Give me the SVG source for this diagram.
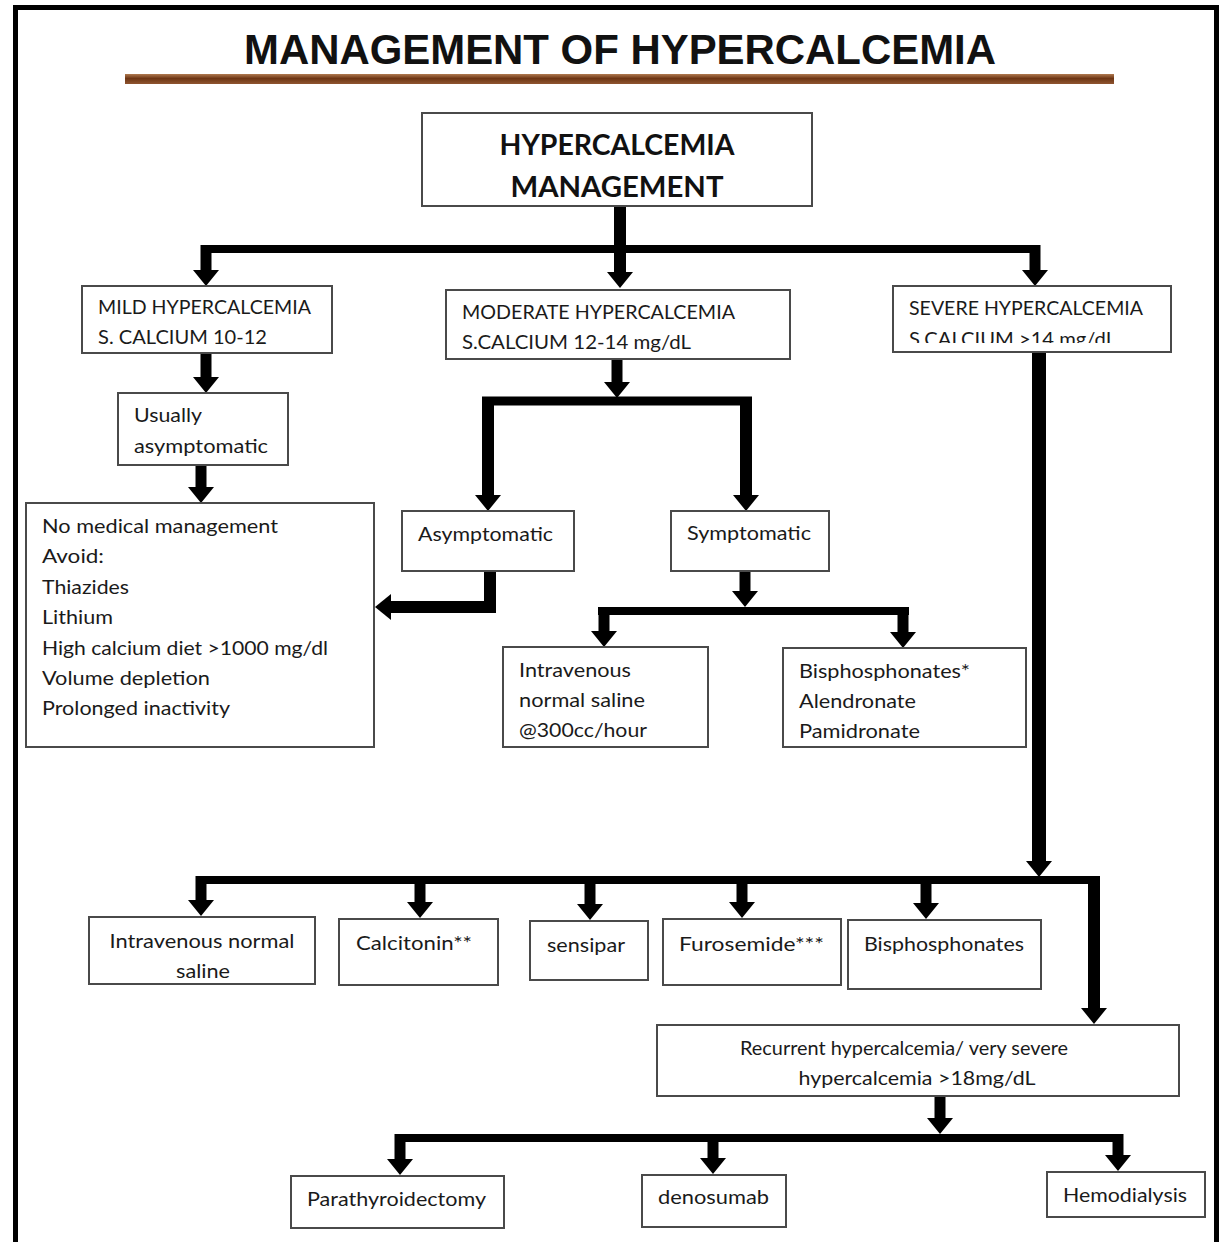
<svg xmlns="http://www.w3.org/2000/svg" width="1222" height="1242" viewBox="0 0 1222 1242">
<style>
.box{fill:#fff;stroke:#4a4a4a;stroke-width:2}
.t{font-family:Lato,"Open Sans","Liberation Sans",sans-serif;font-size:20px;fill:#1a1a1a}
.tb{font-family:Lato,"Open Sans","Liberation Sans",sans-serif;font-size:29px;font-weight:bold;fill:#111}
.title{font-family:"Liberation Sans",Arial,sans-serif;font-size:42px;font-weight:bold;fill:#111}
.c line,.c path{stroke:#000;fill:none;stroke-linejoin:miter}
.h{stroke-width:8}
.s{stroke-width:11}
</style>
<defs>
<marker id="ah" markerUnits="userSpaceOnUse" viewBox="0 -14 17 28" markerWidth="17" markerHeight="28" refX="0" refY="0" orient="auto">
<path d="M0,-13 L16,0 L0,13 Z" fill="#000"/>
</marker>
<linearGradient id="brown" x1="0" y1="0" x2="0" y2="1">
<stop offset="0" stop-color="#b07a50"/>
<stop offset="0.45" stop-color="#6e3614"/>
<stop offset="1" stop-color="#8f5530"/>
</linearGradient>
<clipPath id="clipMod"><rect x="446" y="290" width="344" height="63"/></clipPath>
<clipPath id="clipSev"><rect x="893" y="286" width="278" height="57"/></clipPath>
<clipPath id="clipIV"><rect x="89" y="917" width="226" height="64"/></clipPath>
<clipPath id="clipRec"><rect x="657" y="1025" width="522" height="64"/></clipPath>
</defs>

<rect x="15.5" y="7.5" width="1201" height="1260" fill="#fff" stroke="#000" stroke-width="5"/>

<g id="title">
<text class="title" x="620" y="64" text-anchor="middle" textLength="752" lengthAdjust="spacingAndGlyphs">MANAGEMENT OF HYPERCALCEMIA</text>
<rect x="125" y="74" width="989" height="10" fill="url(#brown)"/>
</g>

<g class="c" id="connectors">
<line class="s" x1="620" y1="206" x2="620" y2="272" style="stroke-width:12" marker-end="url(#ah)"/>
<line class="h" x1="201" y1="249" x2="1040" y2="249"/>
<line class="s" x1="206" y1="245" x2="206" y2="270" marker-end="url(#ah)"/>
<line class="s" x1="1035" y1="245" x2="1035" y2="270" marker-end="url(#ah)"/>
<line class="s" x1="206" y1="353" x2="206" y2="377" marker-end="url(#ah)"/>
<line class="s" x1="201" y1="465" x2="201" y2="487" marker-end="url(#ah)"/>
<line class="s" x1="617" y1="359" x2="617" y2="382" marker-end="url(#ah)"/>
<line x1="482" y1="401" x2="752" y2="401" style="stroke-width:9"/>
<line x1="488" y1="397" x2="488" y2="495" style="stroke-width:12" marker-end="url(#ah)"/>
<line x1="746" y1="397" x2="746" y2="495" style="stroke-width:12" marker-end="url(#ah)"/>
<path d="M490,571 V607 H391" style="stroke-width:12" marker-end="url(#ah)"/>
<line class="s" x1="745" y1="571" x2="745" y2="591" marker-end="url(#ah)"/>
<line class="h" x1="598" y1="611" x2="909" y2="611"/>
<line class="s" x1="604" y1="607" x2="604" y2="631" marker-end="url(#ah)"/>
<line class="s" x1="903" y1="607" x2="903" y2="632" marker-end="url(#ah)"/>
<line x1="1039" y1="352" x2="1039" y2="861" style="stroke-width:14" marker-end="url(#ah)"/>
<line class="h" x1="196" y1="880" x2="1100" y2="880"/>
<line class="s" x1="201" y1="876" x2="201" y2="900" marker-end="url(#ah)"/>
<line class="s" x1="420" y1="876" x2="420" y2="902" marker-end="url(#ah)"/>
<line class="s" x1="590" y1="876" x2="590" y2="904" marker-end="url(#ah)"/>
<line class="s" x1="742" y1="876" x2="742" y2="902" marker-end="url(#ah)"/>
<line class="s" x1="926" y1="876" x2="926" y2="903" marker-end="url(#ah)"/>
<line x1="1094" y1="876" x2="1094" y2="1008" style="stroke-width:12" marker-end="url(#ah)"/>
<line class="s" x1="940" y1="1096" x2="940" y2="1118" marker-end="url(#ah)"/>
<line class="h" x1="395" y1="1138" x2="1123" y2="1138"/>
<line class="s" x1="400" y1="1134" x2="400" y2="1159" marker-end="url(#ah)"/>
<line class="s" x1="713" y1="1134" x2="713" y2="1158" marker-end="url(#ah)"/>
<line class="s" x1="1118" y1="1134" x2="1118" y2="1155" marker-end="url(#ah)"/>
</g>

<g id="n-root">
<rect class="box" x="422" y="113" width="390" height="93"/>
<text class="tb" x="617" y="155" text-anchor="middle" textLength="235" lengthAdjust="spacingAndGlyphs">HYPERCALCEMIA</text>
<text class="tb" x="617" y="197" text-anchor="middle" textLength="213" lengthAdjust="spacingAndGlyphs">MANAGEMENT</text>
</g>

<g id="n-mild">
<rect class="box" x="82" y="286" width="250" height="67"/>
<text class="t" x="98" y="314" textLength="213" lengthAdjust="spacingAndGlyphs">MILD HYPERCALCEMIA</text>
<text class="t" x="98" y="344" textLength="169" lengthAdjust="spacingAndGlyphs">S. CALCIUM 10-12</text>
</g>

<g id="n-moderate">
<rect class="box" x="446" y="290" width="344" height="69"/>
<text class="t" x="462" y="319" textLength="273" lengthAdjust="spacingAndGlyphs">MODERATE HYPERCALCEMIA</text>
<text class="t" x="462" y="349" textLength="229" lengthAdjust="spacingAndGlyphs" clip-path="url(#clipMod)">S.CALCIUM 12-14 mg/dL</text>
</g>

<g id="n-severe">
<rect class="box" x="893" y="286" width="278" height="66"/>
<text class="t" x="909" y="315" textLength="234" lengthAdjust="spacingAndGlyphs">SEVERE HYPERCALCEMIA</text>
<text class="t" x="909" y="346" textLength="207" lengthAdjust="spacingAndGlyphs" clip-path="url(#clipSev)">S.CALCIUM &gt;14 mg/dL</text>
</g>

<g id="n-usually">
<rect class="box" x="118" y="393" width="170" height="72"/>
<text class="t" x="134" y="422" textLength="68" lengthAdjust="spacingAndGlyphs">Usually</text>
<text class="t" x="134" y="453" textLength="134" lengthAdjust="spacingAndGlyphs">asymptomatic</text>
</g>

<g id="n-nomed">
<rect class="box" x="26" y="503" width="348" height="244"/>
<text class="t" x="42" y="533" textLength="236" lengthAdjust="spacingAndGlyphs">No medical management</text>
<text class="t" x="42" y="563" textLength="62" lengthAdjust="spacingAndGlyphs">Avoid:</text>
<text class="t" x="42" y="594" textLength="87" lengthAdjust="spacingAndGlyphs">Thiazides</text>
<text class="t" x="42" y="624" textLength="71" lengthAdjust="spacingAndGlyphs">Lithium</text>
<text class="t" x="42" y="655" textLength="286" lengthAdjust="spacingAndGlyphs">High calcium diet &gt;1000 mg/dl</text>
<text class="t" x="42" y="685" textLength="168" lengthAdjust="spacingAndGlyphs">Volume depletion</text>
<text class="t" x="42" y="715" textLength="188" lengthAdjust="spacingAndGlyphs">Prolonged inactivity</text>
</g>

<g id="n-asym">
<rect class="box" x="402" y="511" width="172" height="60"/>
<text class="t" x="418" y="541" textLength="135" lengthAdjust="spacingAndGlyphs">Asymptomatic</text>
</g>

<g id="n-sym">
<rect class="box" x="671" y="511" width="158" height="60"/>
<text class="t" x="687" y="540" textLength="124" lengthAdjust="spacingAndGlyphs">Symptomatic</text>
</g>

<g id="n-ivmod">
<rect class="box" x="503" y="647" width="205" height="100"/>
<text class="t" x="519" y="677" textLength="112" lengthAdjust="spacingAndGlyphs">Intravenous</text>
<text class="t" x="519" y="707" textLength="126" lengthAdjust="spacingAndGlyphs">normal saline</text>
<text class="t" x="519" y="737" textLength="128" lengthAdjust="spacingAndGlyphs">@300cc/hour</text>
</g>

<g id="n-bismod">
<rect class="box" x="783" y="648" width="243" height="99"/>
<text class="t" x="799" y="678" textLength="171" lengthAdjust="spacingAndGlyphs">Bisphosphonates*</text>
<text class="t" x="799" y="708" textLength="117" lengthAdjust="spacingAndGlyphs">Alendronate</text>
<text class="t" x="799" y="738" textLength="121" lengthAdjust="spacingAndGlyphs">Pamidronate</text>
</g>

<g id="n-ivsev">
<rect class="box" x="89" y="917" width="226" height="67"/>
<text class="t" x="202" y="948" text-anchor="middle" textLength="185" lengthAdjust="spacingAndGlyphs">Intravenous normal</text>
<text class="t" x="203" y="978" text-anchor="middle" textLength="54" lengthAdjust="spacingAndGlyphs" clip-path="url(#clipIV)">saline</text>
</g>

<g id="n-calcitonin">
<rect class="box" x="339" y="919" width="159" height="66"/>
<text class="t" x="356" y="950" textLength="116" lengthAdjust="spacingAndGlyphs">Calcitonin**</text>
</g>

<g id="n-sensipar">
<rect class="box" x="530" y="921" width="118" height="59"/>
<text class="t" x="547" y="952" textLength="78" lengthAdjust="spacingAndGlyphs">sensipar</text>
</g>

<g id="n-furosemide">
<rect class="box" x="663" y="919" width="178" height="66"/>
<text class="t" x="679" y="951" textLength="145" lengthAdjust="spacingAndGlyphs">Furosemide***</text>
</g>

<g id="n-bissev">
<rect class="box" x="848" y="920" width="193" height="69"/>
<text class="t" x="864" y="951" textLength="160" lengthAdjust="spacingAndGlyphs">Bisphosphonates</text>
</g>

<g id="n-recurrent">
<rect class="box" x="657" y="1025" width="522" height="71"/>
<text class="t" x="904" y="1055" text-anchor="middle" textLength="328" lengthAdjust="spacingAndGlyphs">Recurrent hypercalcemia/ very severe</text>
<text class="t" x="917" y="1085" text-anchor="middle" textLength="237" lengthAdjust="spacingAndGlyphs" clip-path="url(#clipRec)">hypercalcemia &gt;18mg/dL</text>
</g>

<g id="n-parathyroid">
<rect class="box" x="291" y="1176" width="213" height="52"/>
<text class="t" x="307" y="1206" textLength="179" lengthAdjust="spacingAndGlyphs">Parathyroidectomy</text>
</g>

<g id="n-denosumab">
<rect class="box" x="642" y="1175" width="144" height="52"/>
<text class="t" x="658" y="1204" textLength="111" lengthAdjust="spacingAndGlyphs">denosumab</text>
</g>

<g id="n-hemodialysis">
<rect class="box" x="1047" y="1172" width="158" height="45"/>
<text class="t" x="1063" y="1202" textLength="124" lengthAdjust="spacingAndGlyphs">Hemodialysis</text>
</g>
</svg>
